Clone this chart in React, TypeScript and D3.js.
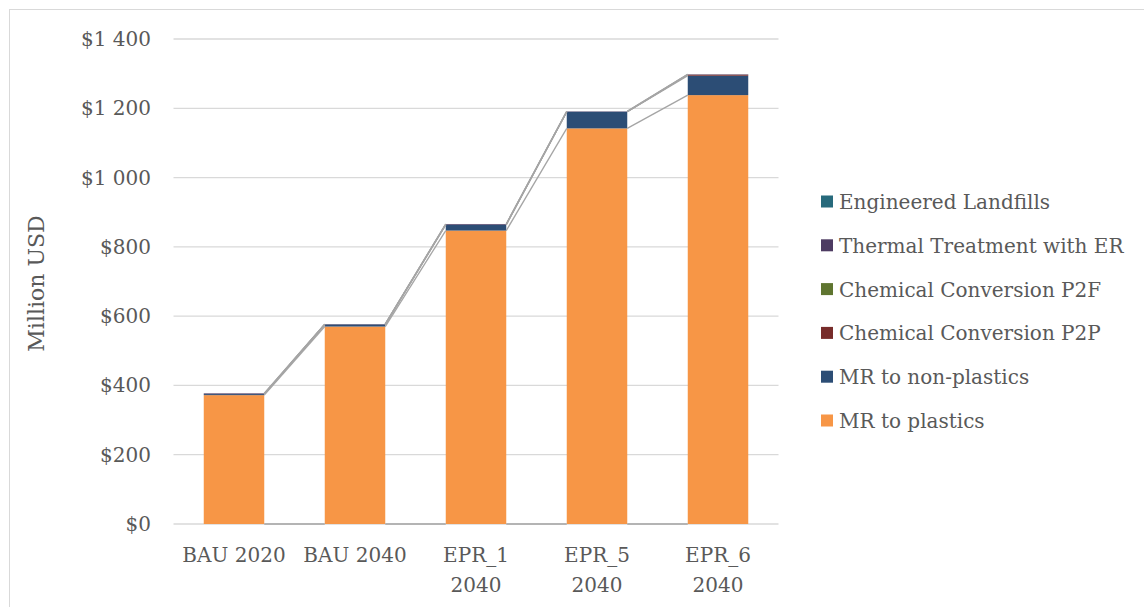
import React from "react";
import * as d3 from "d3";

const categories: string[][] = [
  ["BAU 2020"],
  ["BAU 2040"],
  ["EPR_1", "2040"],
  ["EPR_5", "2040"],
  ["EPR_6", "2040"],
];
const categoryKeys = ["BAU 2020", "BAU 2040", "EPR_1 2040", "EPR_5 2040", "EPR_6 2040"];

// stack order bottom -> top
const seriesNames = [
  "MR to plastics",
  "MR to non-plastics",
  "Chemical Conversion P2P",
  "Chemical Conversion P2F",
  "Thermal Treatment with ER",
  "Engineered Landfills",
];
const seriesColors = ["#F79646", "#2C4D75", "#772C2A", "#5F7530", "#4D3B62", "#276A7C"];

const mrPlastics = [372, 570, 847, 1142, 1238];
const mrNonPlastics = [3, 6, 17, 48, 56];
const chemP2P = [0, 0, 0, 0, 3];
const chemP2F = [0, 0, 0, 0, 0];
const thermal = [2, 1, 2, 1, 1];
const landfills = [0, 0, 0, 0, 0];

const yTicks = [0, 200, 400, 600, 800, 1000, 1200, 1400];
const yTickLabels = ["$0", "$200", "$400", "$600", "$800", "$1 000", "$1 200", "$1 400"];

const FONT = "'DejaVu Serif', serif";
const TEXT = "#595959";

export default function App() {
  const W = 1144, H = 607;
  const left = 173.5, right = 778.5, top = 39, bottom = 524;
  const x = d3.scaleBand().domain(categoryKeys).range([left, right]).paddingInner(0.5).paddingOuter(0.25);
  const y = d3.scaleLinear().domain([0, 1400]).range([bottom, top]);
  const allSeries = [mrPlastics, mrNonPlastics, chemP2P, chemP2F, thermal, landfills];
  const rows = categoryKeys.map((k, i) => {
    const r: any = { key: k };
    seriesNames.forEach((s, j) => (r[s] = allSeries[j][i]));
    return r;
  });
  const stacked = d3.stack<any>().keys(seriesNames)(rows);
  const bw = x.bandwidth();

  // series lines: baseline + top of each series
  const seriesLines: any[] = [];
  const levels: number[][] = [categoryKeys.map(() => 0), ...stacked.map((s) => s.map((d) => d[1]))];
  levels.forEach((lv, li) => {
    for (let i = 0; i < categoryKeys.length - 1; i++) {
      seriesLines.push(
        <line
          key={`sl-${li}-${i}`}
          x1={x(categoryKeys[i])! + bw}
          y1={y(lv[i])}
          x2={x(categoryKeys[i + 1])!}
          y2={y(lv[i + 1])}
          stroke="#A5A5A5"
          strokeWidth={1.3}
        />
      );
    }
  });

  const legendItems = [...seriesNames].reverse();
  const legendColors = [...seriesColors].reverse();

  return (
    <svg width={W} height={H} style={{ position: "absolute", left: 0, top: 0 }} fontFamily={FONT}>
      <rect x={0} y={0} width={W} height={H} fill="#fff" />
      <rect x={9.5} y={9.5} width={W + 10} height={H + 10} fill="none" stroke="#D9D9D9" strokeWidth={1} />
      {yTicks.map((t, i) => (
        <g key={t}>
          <line x1={left} x2={right} y1={y(t)} y2={y(t)} stroke="#D9D9D9" strokeWidth={1.3} />
          <text x={151} y={y(t)} dy="0.35em" textAnchor="end" fontSize={20} fill={TEXT}>
            {yTickLabels[i]}
          </text>
        </g>
      ))}
      {stacked.map((s, si) =>
        s.map((d, i) => {
          const h = y(d[0]) - y(d[1]);
          if (h <= 0) return null;
          return (
            <rect
              key={`${si}-${i}`}
              x={x(categoryKeys[i])}
              y={y(d[1])}
              width={bw}
              height={h}
              fill={seriesColors[si]}
            />
          );
        })
      )}
      {seriesLines}
      {categories.map((lines, i) => (
        <text key={i} textAnchor="middle" fontSize={20} fill={TEXT}>
          {lines.map((l, li) => (
            <tspan key={li} x={x(categoryKeys[i])! + bw / 2} y={562 + li * 30}>
              {l}
            </tspan>
          ))}
        </text>
      ))}
      <text
        transform={`translate(36,${(top + bottom) / 2 + 2}) rotate(-90)`}
        textAnchor="middle"
        fontSize={22}
        fill={TEXT}
        dy="0.35em"
      >
        Million USD
      </text>
      {legendItems.map((name, i) => (
        <g key={name} transform={`translate(821,${202 + i * 43.8})`}>
          <rect x={0} y={-6.5} width={12} height={12} fill={legendColors[i]} />
          <text x={18} y={0} dy="0.35em" fontSize={20} fill={TEXT}>
            {name}
          </text>
        </g>
      ))}
    </svg>
  );
}
